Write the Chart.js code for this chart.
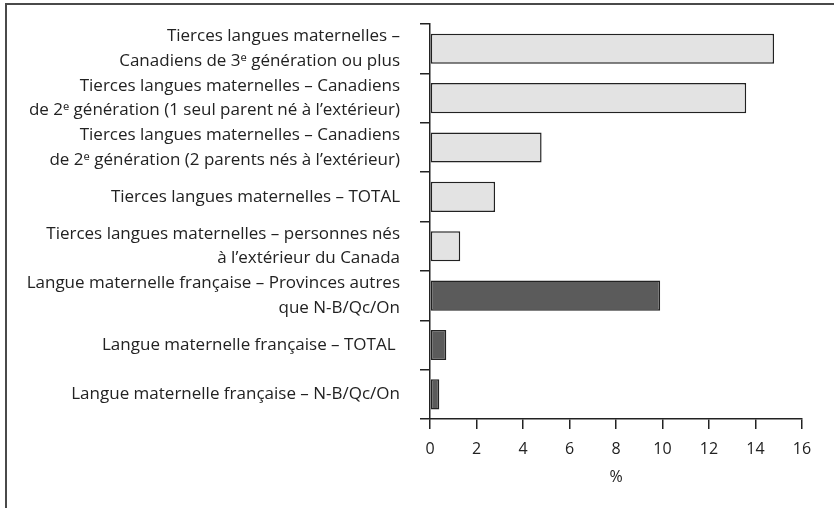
<!DOCTYPE html>
<html>
<head>
<meta charset="utf-8">
<script src="https://cdn.jsdelivr.net/npm/chart.js@4/dist/chart.umd.min.js"></script>
<style>
  html, body { margin: 0; padding: 0; background: #fff; }
  #wrap { width: 834px; height: 508px; position: relative; }
</style>
</head>
<body>
<div id="wrap"><canvas id="c" width="834" height="508"></canvas></div>
<script>
const categories = [
  ["Tierces langues maternelles –", "Canadiens de 3ᵉ génération ou plus"],
  ["Tierces langues maternelles – Canadiens", "de 2ᵉ génération (1 seul parent né à l’extérieur)"],
  ["Tierces langues maternelles – Canadiens", "de 2ᵉ génération (2 parents nés à l’extérieur)"],
  "Tierces langues maternelles – TOTAL",
  ["Tierces langues maternelles – personnes nés", "à l’extérieur du Canada"],
  ["Langue maternelle française – Provinces autres", "que N-B/Qc/On"],
  "Langue maternelle française – TOTAL ",
  "Langue maternelle française – N-B/Qc/On"
];
const values = [14.8, 13.6, 4.8, 2.8, 1.3, 9.9, 0.7, 0.4];
const groups = ["tierce", "tierce", "tierce", "tierce", "tierce", "fr", "fr", "fr"];
const xTicks = [0, 2, 4, 6, 8, 10, 12, 14, 16];
const xTitle = "%";

const FILL = { tierce: "#e3e3e3", fr: "#5b5b5b" };
const FONT = "'Open Sans', 'Noto Sans', sans-serif";

const framePlugin = {
  id: "frame",
  beforeDraw(chart) {
    const ctx = chart.ctx;
    ctx.save();
    ctx.strokeStyle = "#4a4a4a";
    ctx.lineWidth = 2;
    ctx.beginPath();
    ctx.moveTo(834, 4);
    ctx.lineTo(6, 4);
    ctx.lineTo(6, 508);
    ctx.stroke();
    ctx.restore();
  }
};

new Chart(document.getElementById("c"), {
  type: "bar",
  data: {
    labels: categories,
    datasets: [{
      data: values,
      backgroundColor: groups.map(g => FILL[g]),
      borderColor: "#222",
      borderWidth: 1.5,
      borderSkipped: false,
      categoryPercentage: 0.61,
      barPercentage: 1.0
    }]
  },
  plugins: [framePlugin],
  options: {
    indexAxis: "y",
    responsive: false,
    animation: false,
    layout: { padding: { left: 0, right: 32, top: 24, bottom: 20.5 } },
    plugins: { legend: { display: false }, tooltip: { enabled: false } },
    scales: {
      y: {
        type: "category",
        afterFit(scale) {
          scale.width = 430;
          scale.paddingTop = 0;
          scale.paddingBottom = 0;
        },
        grid: {
          offset: true,
          drawOnChartArea: false,
          drawTicks: true,
          tickLength: 10,
          color: "#222",
          lineWidth: 1.5
        },
        border: { display: true, color: "#222", width: 1.5 },
        ticks: {
          autoSkip: false,
          color: "#222",
          font: { family: FONT, size: 17, lineHeight: 1.44 },
          padding: 20
        }
      },
      x: {
        type: "linear",
        min: 0,
        max: 16,
        afterBuildTicks(scale) { scale.ticks = xTicks.map(v => ({ value: v })); },
        grid: {
          drawOnChartArea: false,
          drawTicks: true,
          tickLength: 10,
          color: "#222",
          lineWidth: 1.5
        },
        border: { display: true, color: "#222", width: 1.5 },
        ticks: {
          autoSkip: false,
          color: "#222",
          font: { family: FONT, size: 16 },
          padding: 11,
          maxRotation: 0
        },
        title: {
          display: true,
          text: xTitle,
          color: "#222",
          font: { family: FONT, size: 16 },
          padding: { top: -2, bottom: 0 }
        }
      }
    }
  }
});
</script>
</body>
</html>
